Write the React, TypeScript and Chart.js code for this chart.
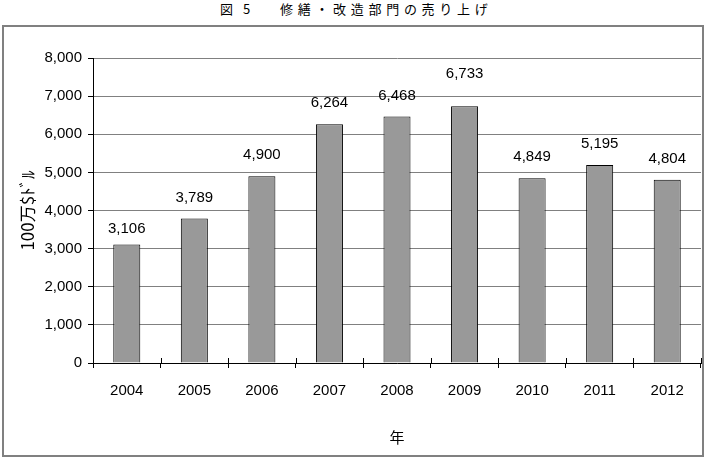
import React, { useEffect, useRef } from "react";
import { Chart, registerables } from "chart.js";

Chart.register(...registerables);

const years = ["2004", "2005", "2006", "2007", "2008", "2009", "2010", "2011", "2012"];
const sales = [3106, 3789, 4900, 6264, 6468, 6733, 4849, 5195, 4804];
const yMin = 0;
const yMax = 8000;
const yStep = 1000;

const titleFig = "図";
const titleNum = "5";
const titleMain = "修繕・改造部門の売り上げ";
const yTitle = "100万$ﾄﾞﾙ";
const xTitle = "年";

const SANS = '"Liberation Sans", Arial, sans-serif';
const JP = '"Noto Sans CJK JP", "Noto Sans", sans-serif';

const valueLabels = {
  id: "valueLabels",
  afterDatasetsDraw(chart: any, _args: any, opts: any) {
    const ctx = chart.ctx;
    const meta = chart.getDatasetMeta(0);
    const data = chart.data.datasets[0].data;
    ctx.save();
    ctx.font = opts.font;
    ctx.fillStyle = "#000";
    ctx.textAlign = "center";
    ctx.textBaseline = "middle";
    meta.data.forEach((bar: any, i: number) => {
      const nudge = (opts.nudge && opts.nudge[i]) || 0;
      ctx.fillText(Number(data[i]).toLocaleString("en-US"), bar.x, bar.y - opts.offset + nudge);
    });
    ctx.restore();
  },
};

const crossTicks = {
  id: "crossTicks",
  afterDraw(chart: any) {
    const ctx = chart.ctx;
    const xs = chart.scales.x;
    const yb = chart.chartArea.bottom;
    const n = chart.data.labels.length;
    ctx.save();
    ctx.strokeStyle = "#000";
    ctx.lineWidth = 1;
    ctx.beginPath();
    for (let i = 0; i <= n; i++) {
      const px = Math.round(xs.left + (xs.width * i) / n) + 0.5;
      ctx.moveTo(px, yb - 5);
      ctx.lineTo(px, yb);
    }
    ctx.stroke();
    ctx.restore();
  },
};

export default function App() {
  const ref = useRef<HTMLCanvasElement | null>(null);

  useEffect(() => {
    if (!ref.current) return;
    const chart = new Chart(ref.current, {
      type: "bar",
      data: {
        labels: years,
        datasets: [
          {
            data: sales,
            backgroundColor: "#999999",
            borderColor: "#000000",
            borderWidth: 1,
            barPercentage: 0.4,
            categoryPercentage: 1,
          },
        ],
      },
      options: {
        responsive: false,
        animation: false,
        devicePixelRatio: 1,
        layout: { padding: { top: 58, right: 8, left: 0, bottom: 0 } },
        plugins: {
          legend: { display: false },
          title: { display: false },
          tooltip: { enabled: false },
          valueLabels: { font: `15px ${SANS}`, offset: 21, nudge: { 0: 5, 5: -11 } },
        } as any,
        scales: {
          x: {
            grid: {
              display: true,
              drawOnChartArea: false,
              offset: true,
              color: "#000",
              tickLength: 5,
            },
            border: { color: "#000", width: 1 },
            ticks: { font: { family: SANS, size: 15 }, color: "#000", padding: 14, maxRotation: 0 },
            title: {
              display: true,
              text: xTitle,
              font: { family: JP, size: 15 },
              color: "#000",
              padding: { top: 0, bottom: 16 },
            },
            afterFit: (s: any) => {
              s.height = 99;
            },
          },
          y: {
            min: yMin,
            max: yMax,
            ticks: {
              stepSize: yStep,
              font: { family: SANS, size: 15 },
              color: "#000",
              padding: 6,
              callback: (v: any) => Number(v).toLocaleString("en-US"),
            },
            grid: { color: "#808080", tickColor: "#000", tickLength: 5, lineWidth: 1 },
            border: { color: "#000", width: 1 },
            title: {
              display: true,
              text: yTitle,
              font: { family: JP, size: 17 },
              color: "#000",
              padding: { top: 17, bottom: 0 },
            },
            afterFit: (s: any) => {
              s.width = 93;
            },
          },
        },
      },
      plugins: [valueLabels, crossTicks],
    });
    return () => chart.destroy();
  }, []);

  return (
    <div style={{ position: "absolute", left: 0, top: 0, width: 709, height: 462, background: "#fff" }}>
      <div
        style={{
          position: "absolute",
          left: 2,
          top: 25,
          width: 702,
          height: 432,
          boxSizing: "border-box",
          border: "2px solid #808080",
        }}
      />
      <div style={{ position: "absolute", top: 0, left: 0, width: 709, height: 18, fontFamily: JP, fontSize: 13, lineHeight: "17px", color: "#000" }}>
        <span style={{ position: "absolute", left: 220 }}>{titleFig}</span>
        <span style={{ position: "absolute", left: 243 }}>{titleNum}</span>
        <span style={{ position: "absolute", left: 280, letterSpacing: "4.7px", whiteSpace: "nowrap" }}>{titleMain}</span>
      </div>
      <canvas ref={ref} width={709} height={462} style={{ position: "absolute", left: 0, top: 0, display: "block" }} />
    </div>
  );
}
